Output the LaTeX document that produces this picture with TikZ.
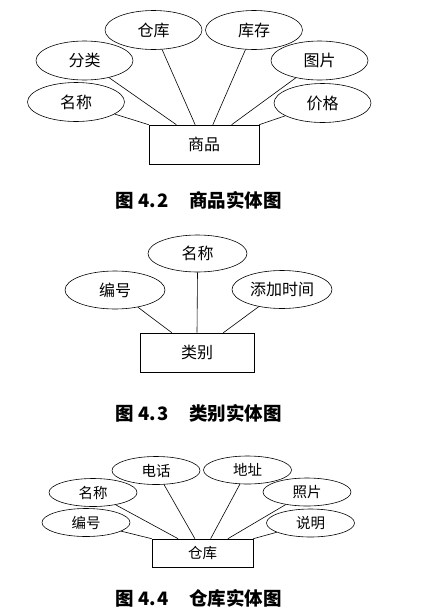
\documentclass[tikz,border=0pt]{standalone}
\usepackage{fontspec}
\setmainfont{Noto Sans CJK SC}
\usetikzlibrary{shapes.geometric,calc}

\begin{document}
\begin{tikzpicture}[x=1pt,y=-1pt,line width=0.6pt,
    attr/.style={draw,ellipse,inner sep=0pt,minimum width=97pt,minimum height=39pt,font=\fontsize{16}{16}\selectfont},
    attrs/.style={draw,ellipse,inner sep=0pt,minimum width=88pt,minimum height=28pt,font=\fontsize{14.5}{14.5}\selectfont},
    entity/.style={draw,rectangle,inner sep=0pt,minimum width=110pt,minimum height=39pt,font=\fontsize{16}{16}\selectfont},
    figcap/.style={font=\fontsize{18.5}{18.5}\selectfont\bfseries}]
      \useasboundingbox (0,0) rectangle (431,614);

      % Figure 4.2
      \node[entity] (sp) at (204,144.5) {商品};
      \node[attr] (spck) at (153.5,30) {仓库};
      \node[attr] (spkc) at (254,30) {库存};
      \node[attr] (spfl) at (84.5,60.5) {分类};
      \node[attr] (sptp) at (319.5,60.5) {图片};
      \node[attr] (spmc) at (76,102) {名称};
      \node[attr] (spjg) at (322.5,103) {价格};
      \draw (spmc) -- (sp.north west);
      \draw (spfl) -- ($(sp.north west)!0.25!(sp.north east)$);
      \draw (spck) -- ($(sp.north west)!0.42!(sp.north east)$);
      \draw (spkc) -- ($(sp.north west)!0.58!(sp.north east)$);
      \draw (sptp) -- ($(sp.north west)!0.75!(sp.north east)$);
      \draw (spjg) -- (sp.north east);
      \node[figcap] (cap2) at (198.5,200) {图\hspace{0.25em}4.\kern1.5pt2\hspace{1.1em}商品实体图};

      % Figure 4.3
      \node[entity,minimum width=114pt] (lb) at (197,352.5) {类别};
      \node[attr,minimum width=99pt,minimum height=37pt] (lbmc) at (197.5,253.5) {名称};
      \node[attr,minimum width=100pt,minimum height=38pt] (lbbh) at (115,290) {编号};
      \node[attr,minimum width=100pt,minimum height=38pt] (lbsj) at (282,289.5) {添加时间};
      \draw (lbbh) -- ($(lb.north west)!0.28!(lb.north east)$);
      \draw (lbmc.south) -- (lb.north);
      \draw (lbsj) -- ($(lb.north west)!0.73!(lb.north east)$);
      \node[figcap] (cap3) at (198.5,413) {图\hspace{0.25em}4.\kern1.5pt3\hspace{1.1em}类别实体图};

      % Figure 4.4
      \node[entity,minimum width=101pt,minimum height=28pt,font=\fontsize{14.5}{14.5}\selectfont] (ck) at (202.5,553) {仓库};
      \node[attrs] (ckdh) at (156,470.5) {电话};
      \node[attrs] (ckdz) at (247.5,470) {地址};
      \node[attrs] (ckmc) at (93,492.5) {名称};
      \node[attrs] (ckzp) at (307,492) {照片};
      \node[attrs] (ckbh) at (86,522.5) {编号};
      \node[attrs] (cksm) at (310.5,523) {说明};
      \draw (ckbh) -- (ck.north west);
      \draw (ckmc) -- ($(ck.north west)!0.26!(ck.north east)$);
      \draw (ckdh) -- ($(ck.north west)!0.425!(ck.north east)$);
      \draw (ckdz) -- ($(ck.north west)!0.58!(ck.north east)$);
      \draw (ckzp) -- ($(ck.north west)!0.75!(ck.north east)$);
      \draw (cksm) -- (ck.north east);
      \node[figcap] (cap4) at (198.5,598) {图\hspace{0.25em}4.\kern1.5pt4\hspace{1.1em}仓库实体图};
\end{tikzpicture}
\end{document}
